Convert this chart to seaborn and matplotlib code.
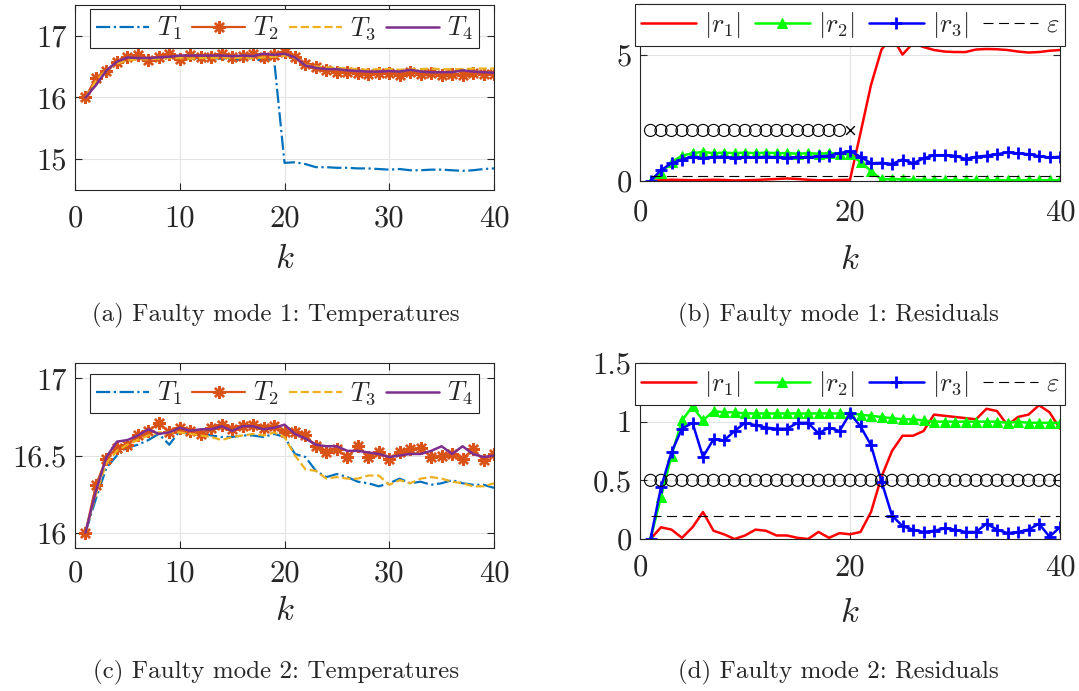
import matplotlib
matplotlib.use("Agg")
import matplotlib.pyplot as plt
import seaborn as sns

# time steps
k = list(range(1, 41))

# ---- Faulty mode 1: temperatures ----
t1_m1 = [16.0, 16.25, 16.42, 16.55, 16.62, 16.63, 16.63, 16.64, 16.65, 16.65,
         16.63, 16.64, 16.64, 16.63, 16.6, 16.62, 16.62, 16.6, 16.63, 14.94,
         14.95, 14.92, 14.87, 14.87, 14.86, 14.86, 14.85, 14.85, 14.84, 14.83,
         14.84, 14.82, 14.82, 14.83, 14.83, 14.82, 14.81, 14.82, 14.84, 14.85]
t2_m1 = [16.0, 16.32, 16.43, 16.58, 16.65, 16.69, 16.6, 16.65, 16.7, 16.62,
         16.69, 16.66, 16.66, 16.7, 16.66, 16.67, 16.7, 16.66, 16.69, 16.73,
         16.66, 16.54, 16.5, 16.45, 16.42, 16.42, 16.4, 16.38, 16.4, 16.4,
         16.36, 16.42, 16.38, 16.39, 16.36, 16.38, 16.36, 16.4, 16.38, 16.38]
t3_m1 = [16.0, 16.27, 16.45, 16.55, 16.6, 16.62, 16.62, 16.63, 16.64, 16.64,
         16.63, 16.64, 16.64, 16.65, 16.64, 16.65, 16.64, 16.65, 16.66, 16.68,
         16.64, 16.53, 16.5, 16.49, 16.48, 16.47, 16.46, 16.45, 16.46, 16.46,
         16.45, 16.46, 16.46, 16.47, 16.46, 16.46, 16.46, 16.47, 16.47, 16.47]
t4_m1 = [16.0, 16.2, 16.44, 16.58, 16.65, 16.64, 16.64, 16.65, 16.66, 16.68,
         16.68, 16.68, 16.68, 16.68, 16.67, 16.68, 16.67, 16.71, 16.69, 16.71,
         16.65, 16.52, 16.48, 16.46, 16.46, 16.44, 16.43, 16.42, 16.42, 16.43,
         16.42, 16.45, 16.42, 16.41, 16.41, 16.41, 16.44, 16.42, 16.41, 16.4]

# ---- Faulty mode 1: residuals ----
r1_m1 = [0.0, 0.03, 0.05, 0.04, 0.03, 0.04, 0.05, 0.04, 0.02, 0.03,
         0.04, 0.06, 0.08, 0.1, 0.08, 0.05, 0.03, 0.03, 0.04, 0.05,
         1.9, 3.8, 5.2, 5.7, 5.0, 5.45, 5.3, 5.18, 5.12, 5.1,
         5.1, 5.2, 5.22, 5.21, 5.18, 5.12, 5.08, 5.1, 5.15, 5.18]
r2_m1 = [0.0, 0.3, 0.75, 1.0, 1.1, 1.15, 1.1, 1.12, 1.1, 1.12,
         1.1, 1.12, 1.1, 1.1, 1.08, 1.1, 1.08, 1.1, 1.08, 1.05,
         0.75, 0.4, 0.06, 0.08, 0.06, 0.05, 0.04, 0.04, 0.03, 0.03,
         0.03, 0.03, 0.03, 0.03, 0.03, 0.03, 0.03, 0.03, 0.03, 0.03]
r3_m1 = [0.0, 0.43, 0.7, 0.85, 0.96, 0.9, 0.95, 0.96, 0.92, 0.95,
         0.93, 0.96, 0.94, 0.92, 0.95, 0.93, 0.97, 1.0, 1.1, 1.18,
         0.96, 0.7, 0.72, 0.67, 0.85, 0.7, 0.89, 1.02, 1.02, 1.0,
         0.87, 0.96, 1.0, 1.06, 1.13, 1.09, 1.06, 0.98, 0.93, 0.96]
iso_k_m1 = list(range(1, 20))
iso_m1 = [2.0] * 19
iso_stop_k_m1 = [20]
iso_stop_m1 = [2.0]

# ---- Faulty mode 2: temperatures ----
t1_m2 = [16.0, 16.22, 16.42, 16.5, 16.55, 16.57, 16.6, 16.64, 16.57, 16.66,
         16.64, 16.65, 16.63, 16.62, 16.62, 16.63, 16.63, 16.62, 16.64, 16.62,
         16.51, 16.49, 16.4, 16.36, 16.38, 16.36, 16.33, 16.32, 16.3, 16.32,
         16.35, 16.32, 16.33, 16.31, 16.32, 16.34, 16.32, 16.31, 16.31, 16.29]
t2_m2 = [16.0, 16.31, 16.48, 16.55, 16.57, 16.63, 16.66, 16.71, 16.65, 16.68,
         16.66, 16.64, 16.68, 16.7, 16.67, 16.69, 16.7, 16.68, 16.69, 16.65,
         16.65, 16.63, 16.56, 16.52, 16.54, 16.49, 16.56, 16.49, 16.52, 16.48,
         16.52, 16.54, 16.55, 16.49, 16.5, 16.51, 16.48, 16.54, 16.47, 16.51]
t3_m2 = [16.0, 16.25, 16.45, 16.53, 16.57, 16.6, 16.63, 16.65, 16.65, 16.65,
         16.64, 16.63, 16.62, 16.6, 16.62, 16.63, 16.64, 16.63, 16.65, 16.62,
         16.5, 16.41, 16.4, 16.35, 16.36, 16.35, 16.35, 16.37, 16.37, 16.31,
         16.34, 16.32, 16.35, 16.36, 16.35, 16.33, 16.32, 16.3, 16.3, 16.32]
t4_m2 = [16.0, 16.27, 16.49, 16.59, 16.6, 16.63, 16.67, 16.64, 16.65, 16.68,
         16.66, 16.67, 16.67, 16.69, 16.66, 16.69, 16.69, 16.67, 16.68, 16.7,
         16.64, 16.61, 16.57, 16.56, 16.56, 16.53, 16.53, 16.52, 16.51, 16.49,
         16.5, 16.51, 16.51, 16.53, 16.56, 16.51, 16.56, 16.51, 16.49, 16.5]

# ---- Faulty mode 2: residuals ----
r1_m2 = [0.0, 0.1, 0.08, 0.01, 0.1, 0.23, 0.07, 0.04, 0.0, 0.03,
         0.08, 0.07, 0.03, 0.03, 0.01, 0.0, 0.06, 0.01, 0.05, 0.04,
         0.06, 0.23, 0.53, 0.75, 0.88, 0.88, 0.92, 1.06, 1.05, 1.04,
         1.03, 1.02, 1.11, 1.09, 0.97, 1.04, 1.06, 1.14, 1.08, 0.94]
r2_m2 = [0.0, 0.36, 0.71, 1.01, 1.13, 1.01, 1.09, 1.08, 1.08, 1.07,
         1.07, 1.07, 1.07, 1.07, 1.07, 1.07, 1.07, 1.07, 1.07, 1.07,
         1.06, 1.05, 1.04, 1.03, 1.02, 1.02, 1.01, 1.0, 1.0, 1.0,
         1.0, 1.0, 1.0, 1.0, 0.99, 1.0, 0.99, 0.99, 0.99, 0.99]
r3_m2 = [0.0, 0.44, 0.74, 0.94, 0.99, 0.7, 0.85, 0.84, 0.92, 0.99,
         0.97, 0.95, 0.94, 0.94, 0.99, 0.99, 0.9, 0.95, 0.92, 1.07,
         0.96, 0.8, 0.49, 0.2, 0.11, 0.08, 0.06, 0.07, 0.09, 0.08,
         0.06, 0.06, 0.13, 0.08, 0.05, 0.06, 0.08, 0.13, 0.02, 0.1]
iso_k_m2 = list(range(1, 41))
iso_m2 = [0.5] * 40

# threshold epsilon
eps_k = [1, 40]
eps_val = [0.2, 0.2]

# MATLAB-like colours
c_t = ["#0072BD", "#D95319", "#EDB120", "#7E2F8E"]
c_r = ["#FF0000", "#00FF00", "#0000FF"]
edge = "#262626"

sns.set_style("ticks")
plt.rcParams["font.family"] = ["cmr10", "DejaVu Serif"]
plt.rcParams["mathtext.fontset"] = "cm"
plt.rcParams["axes.formatter.use_mathtext"] = True

fig = plt.figure(figsize=(10.79, 6.91), dpi=100)
W, H = 1079, 691


def px_axes(left, top, right, bottom):
    return fig.add_axes([left / W, 1 - bottom / H, (right - left) / W, (bottom - top) / H])


def style(ax, xticks, yticks, ylabels, ylim, xpad, kpad):
    ax.set_xlim(0, 40)
    ax.set_ylim(*ylim)
    ax.set_xticks(xticks)
    ax.set_xticklabels([str(t) for t in xticks])
    ax.set_yticks(yticks)
    ax.set_yticklabels(ylabels)
    ax.grid(True, color="#e3e3e3", lw=0.8)
    ax.set_axisbelow(True)
    ax.tick_params(direction="in", top=True, right=True, length=5, width=0.8,
                   color=edge, labelsize=22, labelcolor="#262626")
    ax.tick_params(axis="x", pad=xpad)
    ax.tick_params(axis="y", pad=6)
    for s in ax.spines.values():
        s.set_color(edge)
        s.set_linewidth(0.8)
    ax.set_xlabel("$k$", fontsize=25, labelpad=kpad, color="#262626")
    ax.set_ylabel("")


def finish_legend(ax, anchor_y, hl, cs):
    leg = ax.legend(ncol=4, loc="upper center", bbox_to_anchor=(0.5, anchor_y),
                    borderaxespad=0, fontsize=19, handlelength=hl, handletextpad=0.3,
                    columnspacing=cs, borderpad=0.22, fancybox=False,
                    framealpha=1, edgecolor=edge)
    leg.get_frame().set_linewidth(0.8)


def temp_panel(ax, t1, t2, t3, t4, ylim, yticks, ylabels, xpad, kpad, anchor_y):
    sns.lineplot(x=k, y=t1, ax=ax, color=c_t[0], linestyle="-.", lw=1.6, label="$T_1$")
    sns.lineplot(x=k, y=t2, ax=ax, color=c_t[1], lw=1.6, marker=(8, 2, 0), ms=9,
                 mew=1.7, mec=c_t[1], label="$T_2$")
    sns.lineplot(x=k, y=t3, ax=ax, color=c_t[2], linestyle="--", lw=1.6, label="$T_3$")
    sns.lineplot(x=k, y=t4, ax=ax, color=c_t[3], lw=1.8, label="$T_4$")
    style(ax, [0, 10, 20, 30, 40], yticks, ylabels, ylim, xpad, kpad)
    finish_legend(ax, anchor_y, 2.0, 0.4)


def resid_panel(ax, r1, r2, r3, ylim, yticks, ylabels, xpad, kpad):
    sns.lineplot(x=k, y=r1, ax=ax, color=c_r[0], lw=1.8, label="$|r_1|$")
    sns.lineplot(x=k, y=r2, ax=ax, color=c_r[1], lw=1.8, marker="^", ms=7,
                 mec=c_r[1], label="$|r_2|$")
    sns.lineplot(x=k, y=r3, ax=ax, color=c_r[2], lw=1.8, marker="+", ms=9,
                 mew=2, mec=c_r[2], label="$|r_3|$")
    sns.lineplot(x=eps_k, y=eps_val, ax=ax, color="black", lw=0.8,
                 linestyle=(0, (9, 5)), label=r"$\varepsilon$")
    style(ax, [0, 20, 40], yticks, ylabels, ylim, xpad, kpad)
    finish_legend(ax, 1.0, 2.1, 0.55)


# (a)
ax_a = px_axes(75, 5, 494, 190)
temp_panel(ax_a, t1_m1, t2_m1, t3_m1, t4_m1, (14.5, 17.5), [15, 16, 17],
           ["15", "16", "17"], 11, 8, 1 - 4 / 185)

# (b)
ax_b = px_axes(640, 4, 1060, 181)
sns.scatterplot(x=iso_k_m1, y=iso_m1, ax=ax_b, marker="o", s=75, facecolor="none",
                edgecolor="black", linewidth=0.8, zorder=5)
sns.scatterplot(x=iso_stop_k_m1, y=iso_stop_m1, ax=ax_b, marker="x", s=40,
                color="black", linewidth=1.0, zorder=5)
resid_panel(ax_b, r1_m1, r2_m1, r3_m1, (0, 7), [0, 5], ["0", "5"], 13, 13)

# (c)
ax_c = px_axes(75, 363, 494, 548)
temp_panel(ax_c, t1_m2, t2_m2, t3_m2, t4_m2, (15.9, 17.1), [16, 16.5, 17],
           ["16", "16.5", "17"], 9, 5, 1 - 11 / 185)

# (d)
ax_d = px_axes(640, 363, 1060, 539)
sns.scatterplot(x=iso_k_m2, y=iso_m2, ax=ax_d, marker="o", s=75, facecolor="none",
                edgecolor="black", linewidth=0.8, zorder=5)
resid_panel(ax_d, r1_m2, r2_m2, r3_m2, (0, 1.5), [0, 0.5, 1, 1.5],
            ["0", "0.5", "1", "1.5"], 11, 11)

# captions
cap = dict(ha="center", va="center", fontsize=18, color="#262626")
fig.text(276 / W, 1 - 315 / H, "(a) Faulty mode 1: Temperatures", **cap)
fig.text(838 / W, 1 - 315 / H, "(b) Faulty mode 1: Residuals", **cap)
fig.text(276 / W, 1 - 672 / H, "(c) Faulty mode 2: Temperatures", **cap)
fig.text(838 / W, 1 - 672 / H, "(d) Faulty mode 2: Residuals", **cap)

fig.savefig("out.png", dpi=100)
